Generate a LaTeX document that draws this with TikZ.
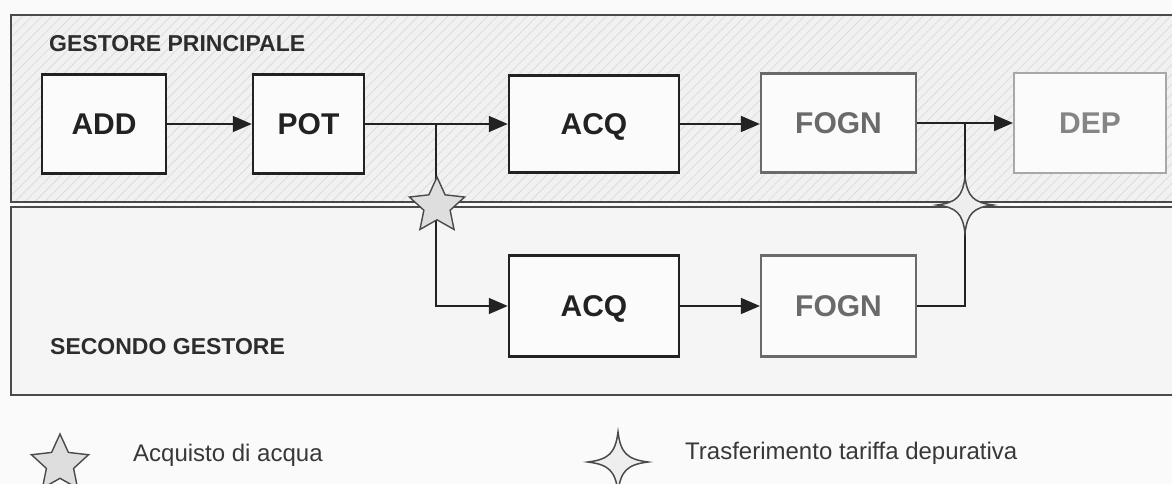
\documentclass[tikz,border=0pt]{standalone}
\usepackage{fontspec}
\setmainfont{Liberation Sans}
\usetikzlibrary{shapes.geometric,arrows.meta,patterns.meta}
\definecolor{pagebg}{HTML}{FAFAFA}
\definecolor{topbg}{HTML}{F1F1F1}
\definecolor{hatch}{HTML}{DCDCDC}
\definecolor{lowbg}{HTML}{F5F5F5}
\definecolor{panelline}{HTML}{4A4A4A}
\definecolor{ink}{HTML}{222222}
\definecolor{boxfill}{HTML}{FBFBFB}
\definecolor{midgray}{HTML}{6A6A6A}
\definecolor{lightgray2}{HTML}{A8A8A8}
\definecolor{deptext}{HTML}{858585}
\definecolor{starfill}{HTML}{DEDEDE}
\definecolor{sparkfill}{HTML}{EEEEEE}
\tikzset{
  panel/.style={draw=panelline, line width=1.4pt},
  boxbase/.style={rectangle, inner sep=0pt, fill=boxfill, text height=21.5pt, text depth=0pt, font=\fontsize{30}{32}\selectfont\bfseries},
  darkbox/.style={boxbase, draw=ink, line width=2.5pt, text=ink},
  midbox/.style={boxbase, draw=midgray, line width=2.2pt, text=midgray},
  lightbox/.style={boxbase, draw=lightgray2, line width=2pt, text=deptext},
  flow/.style={draw=ink, line width=1.6pt},
  arr/.style={flow, -{Triangle[length=19pt,width=16pt]}},
  heading/.style={anchor=west, inner sep=0pt, text=ink!95, font=\fontsize{23}{25}\selectfont\bfseries},
  legendtext/.style={anchor=base west, inner sep=0pt, text=ink!90, font=\fontsize{24}{26}\selectfont},
  fivestar/.style={star, star points=5, star point ratio=2.1, inner sep=0pt, minimum size=#1, draw=panelline, line width=1.4pt, fill=starfill},
  pics/sparkle/.style={code={
    \filldraw[fill=sparkfill, draw=panelline, line width=1.5pt, line join=miter, miter limit=20]
      (0,-#1) .. controls (0.09*#1,-0.3*#1) and (0.3*#1,-0.09*#1) .. (#1,0)
      .. controls (0.3*#1,0.09*#1) and (0.09*#1,0.3*#1) .. (0,#1)
      .. controls (-0.09*#1,0.3*#1) and (-0.3*#1,0.09*#1) .. (-#1,0)
      .. controls (-0.3*#1,-0.09*#1) and (-0.09*#1,-0.3*#1) .. cycle;
  }}
}
\begin{document}
\begin{tikzpicture}[x=1pt,y=-1pt]
\fill[pagebg] (0,0) rectangle (1172,484);
\useasboundingbox (0,0) rectangle (1172,484);
% panels
\fill[topbg] (11,15) rectangle (1190,202);
\fill[pattern={Lines[angle=45,distance=7pt,line width=0.8pt]}, pattern color=hatch] (11,15) rectangle (1190,202);
\draw[panel] (1190,15) -- (11,15) -- (11,202) -- (1190,202);
\fill[lowbg] (11,207) rectangle (1190,395);
\draw[panel] (1190,207) -- (11,207) -- (11,395) -- (1190,395);
\node[heading] (h1) at (49,44) {GESTORE PRINCIPALE};
\node[heading] (h2) at (50,347) {SECONDO GESTORE};
% boxes
\node[darkbox, minimum width=124pt, minimum height=99pt] (add) at (104,124) {ADD};
\node[darkbox, minimum width=111pt, minimum height=99pt] (pot) at (308.5,124) {POT};
\node[darkbox, minimum width=170pt, minimum height=97pt] (acq1) at (594,124) {ACQ};
\node[midbox, minimum width=155pt, minimum height=99pt] (fogn1) at (838.5,123) {FOGN};
\node[lightbox, minimum width=152pt, minimum height=100pt] (dep) at (1090,123) {DEP};
\node[darkbox, minimum width=170pt, minimum height=101pt] (acq2) at (594,306) {ACQ};
\node[midbox, minimum width=155pt, minimum height=101pt] (fogn2) at (838.5,306) {FOGN};
% junctions
\coordinate (j1) at (436,124);
\coordinate (j2) at (965,123);
% connectors
\draw[arr] (add.east) -- (pot.west);
\draw[flow] (pot.east) -- (j1);
\draw[arr] (j1) -- (acq1.west);
\draw[arr] (j1) |- (acq2.west);
\draw[arr] (acq1.east) -- (acq1.east -| fogn1.west);
\draw[arr] (acq2.east) -- (fogn2.west);
\draw[flow] (fogn1.east) -- (j2);
\draw[arr] (j2) -- (dep.west);
\draw[flow] (fogn2.east) -| (j2);
% markers
\node[fivestar=58pt] (st1) at (437,206) {};
\pic at (965,205) {sparkle=28};
% legend
\node[fivestar=60pt] (st2) at (60,464) {};
\node[legendtext] (l1) at (133,461) {Acquisto di acqua};
\pic at (618,462) {sparkle=30};
\node[legendtext] (l2) at (685,459) {Trasferimento tariffa depurativa};
\end{tikzpicture}
\end{document}
